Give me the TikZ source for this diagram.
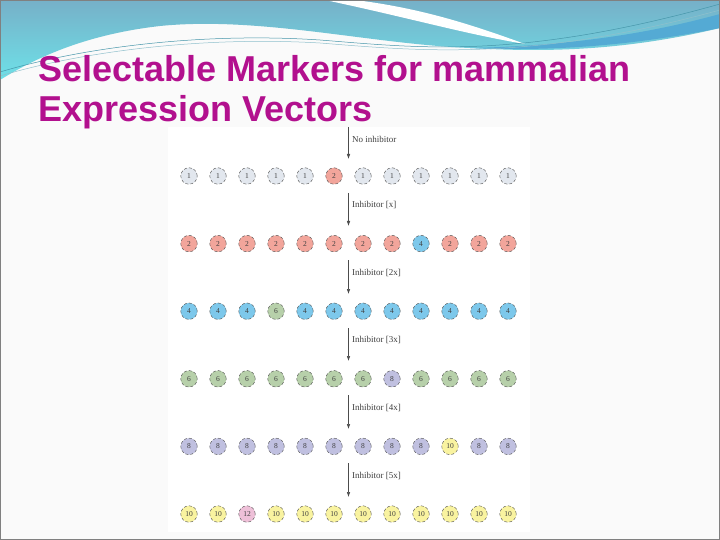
\documentclass[tikz,border=0pt]{standalone}
\usepackage{fontspec}
\setmainfont{Liberation Serif}
\newfontfamily\titlefont{Liberation Sans}
\usetikzlibrary{arrows.meta}
\definecolor{titlemagenta}{RGB}{178,16,142}
\definecolor{wavetop}{RGB}{118,176,200}
\definecolor{wavemid}{RGB}{140,205,222}
\definecolor{wavebot}{RGB}{110,225,232}
\definecolor{waveband}{RGB}{84,170,212}
\definecolor{waveline}{RGB}{70,150,170}
\definecolor{c1}{RGB}{226,231,238}
\definecolor{c2}{RGB}{242,165,155}
\definecolor{c4}{RGB}{125,200,235}
\definecolor{c6}{RGB}{183,208,170}
\definecolor{c8}{RGB}{192,192,224}
\definecolor{c10}{RGB}{249,243,160}
\definecolor{c12}{RGB}{238,192,216}
\tikzstyle{marker}=[circle,draw=black!70,densely dashed,line width=0.4pt,minimum size=16.5pt,inner sep=0pt,font=\fontsize{7.5}{7.5}\selectfont,text=black!75]
\tikzstyle{m1}=[fill=c1]
\tikzstyle{m2}=[fill=c2]
\tikzstyle{m4}=[fill=c4]
\tikzstyle{m6}=[fill=c6]
\tikzstyle{m8}=[fill=c8]
\tikzstyle{m10}=[fill=c10]
\tikzstyle{m12}=[fill=c12]
\tikzstyle{drug}=[-{Latex[length=5pt,width=3.5pt]},black!70,line width=0.5pt]
\tikzstyle{druglabel}=[anchor=west,inner sep=0pt,font=\fontsize{9}{9}\selectfont,text=black!75]
\tikzstyle{titleline}=[anchor=base west,inner sep=0pt,text=titlemagenta,font=\titlefont\bfseries\fontsize{36}{40}\selectfont]

\begin{document}
\begin{tikzpicture}[x=1pt,y=-1pt]
    \useasboundingbox (0,0) rectangle (720,540);
    % slide background
    \fill[black!2] (0,0) rectangle (720,540);
    % wave at the top
    \shade[top color=wavetop,middle color=wavemid,bottom color=wavebot]
      (0,0) -- (720,0) -- (720,28) .. controls (620,52) and (540,52) .. (470,48)
      .. controls (370,44) and (260,16) .. (160,26)
      .. controls (90,34) and (40,55) .. (0,80) -- cycle;
    \fill[waveband] (470,48) .. controls (560,52) and (640,44) .. (720,28)
      -- (720,14) .. controls (640,36) and (560,46) .. (470,48) -- cycle;
    \fill[white] (355,0) .. controls (420,8) and (470,24) .. (525,44)
      .. controls (465,34) and (410,18) .. (325,0) -- cycle;
    \draw[waveline,line width=0.5pt] (0,72) .. controls (80,48) and (200,32) .. (320,40)
      .. controls (420,48) and (520,60) .. (720,4);
    \draw[waveline!60,line width=0.5pt] (0,76) .. controls (80,52) and (200,36) .. (320,43)
      .. controls (420,51) and (530,62) .. (720,10);
    % title
    \node[titleline] (title1) at (38,82) {Selectable Markers for mammalian};
    \node[titleline] (title2) at (38,122) {Expression Vectors};
    % picture panel
    \fill[white] (168,127) rectangle (530,532);
    % markers
    \foreach \vals [count=\r] in {{1,1,1,1,1,2,1,1,1,1,1,1},
                                  {2,2,2,2,2,2,2,2,4,2,2,2},
                                  {4,4,4,6,4,4,4,4,4,4,4,4},
                                  {6,6,6,6,6,6,6,8,6,6,6,6},
                                  {8,8,8,8,8,8,8,8,8,10,8,8},
                                  {10,10,12,10,10,10,10,10,10,10,10,10}}
      \foreach \v [count=\i] in \vals
        \node[marker,m\v] (c\r-\i) at ({189+29*(\i-1)},{176+67.6*(\r-1)}) {\v};
    % arrows
    \coordinate (s1) at (348.5,127);
    \coordinate (e1) at (348.5,159);
    \coordinate (s2) at (348.5,193);
    \coordinate (e2) at (348.5,226);
    \coordinate (s3) at (348.5,260);
    \coordinate (e3) at (348.5,294);
    \coordinate (s4) at (348.5,328);
    \coordinate (e4) at (348.5,361);
    \coordinate (s5) at (348.5,395);
    \coordinate (e5) at (348.5,429);
    \coordinate (s6) at (348.5,463);
    \coordinate (e6) at (348.5,497);
    \draw[drug] (s1) -- (e1);
    \draw[drug] (s2) -- (e2);
    \draw[drug] (s3) -- (e3);
    \draw[drug] (s4) -- (e4);
    \draw[drug] (s5) -- (e5);
    \draw[drug] (s6) -- (e6);
    \node[druglabel] (l1) at (352,139) {No inhibitor};
    \node[druglabel] (l2) at (352,205) {Inhibitor [x]};
    \node[druglabel] (l3) at (352,273) {Inhibitor [2x]};
    \node[druglabel] (l4) at (352,340) {Inhibitor [3x]};
    \node[druglabel] (l5) at (352,408) {Inhibitor [4x]};
    \node[druglabel] (l6) at (352,476) {Inhibitor [5x]};
    % frame
    \draw[black!50,line width=1.5pt] (0,0) rectangle (720,540);
\end{tikzpicture}
\end{document}
